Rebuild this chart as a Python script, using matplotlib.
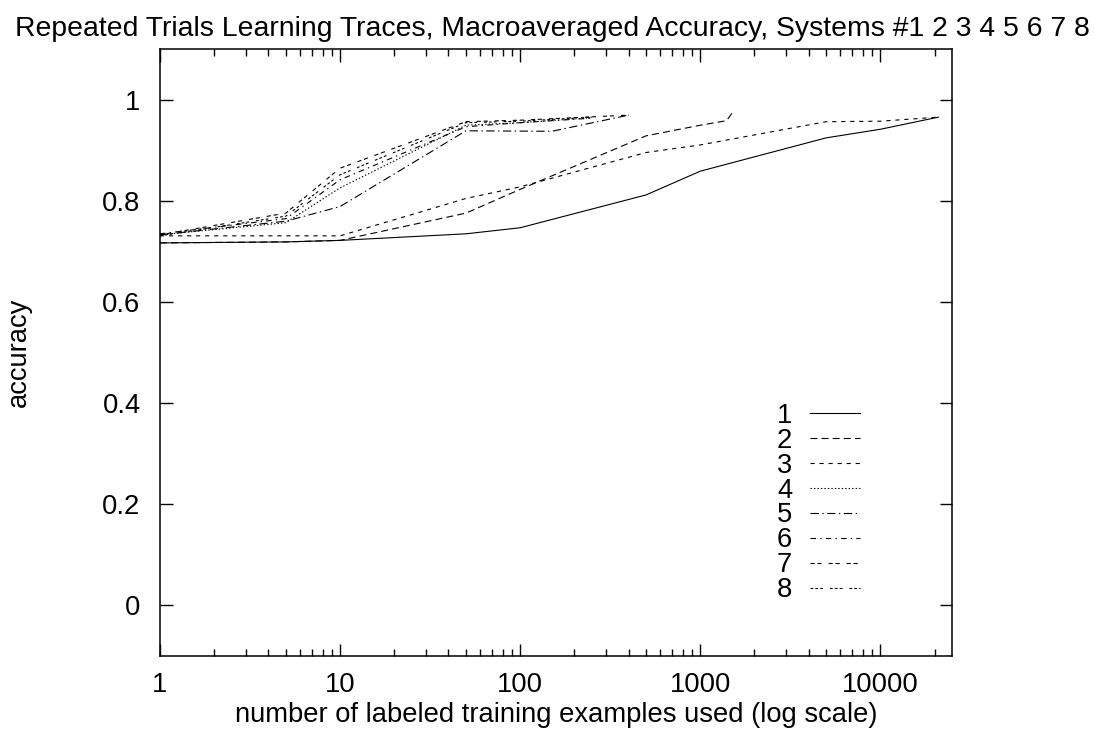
import matplotlib
matplotlib.use("Agg")
import matplotlib.pyplot as plt
from matplotlib.ticker import LogLocator, NullFormatter, FixedLocator

plt.rcParams['font.family'] = ['Liberation Sans', 'DejaVu Sans']
plt.rcParams['lines.scale_dashes'] = False

TITLE = "Repeated Trials Learning Traces, Macroaveraged Accuracy, Systems #1 2 3 4 5 6 7 8"
FS = 19.7

# learning traces, one per system
x1 = [1, 5, 10, 50, 100, 500, 1000, 5000, 10000, 21000]
y1 = [0.717, 0.719, 0.722, 0.735, 0.747, 0.812, 0.859, 0.925, 0.942, 0.966]

x2 = [1, 5, 10, 50, 100, 500, 1000, 1400, 1500]
y2 = [0.717, 0.719, 0.722, 0.776, 0.823, 0.929, 0.950, 0.959, 0.974]

x3 = [1, 5, 10, 50, 100, 500, 1000, 5000, 10000, 21000]
y3 = [0.731, 0.731, 0.731, 0.805, 0.828, 0.896, 0.911, 0.957, 0.958, 0.966]

x4 = [1, 5, 10, 50, 100, 250]
y4 = [0.733, 0.757, 0.826, 0.950, 0.955, 0.965]

x5 = [1, 5, 10, 50, 150, 400]
y5 = [0.733, 0.760, 0.789, 0.939, 0.938, 0.970]

x6 = [1, 5, 10, 50, 100, 250]
y6 = [0.735, 0.765, 0.842, 0.947, 0.955, 0.964]

x7 = [1, 5, 10, 50, 100, 400]
y7 = [0.733, 0.776, 0.865, 0.957, 0.960, 0.970]

x8 = [1, 5, 10, 50, 100, 250]
y8 = [0.731, 0.770, 0.852, 0.955, 0.958, 0.966]

series = [("1", x1, y1), ("2", x2, y2), ("3", x3, y3), ("4", x4, y4),
          ("5", x5, y5), ("6", x6, y6), ("7", x7, y7), ("8", x8, y8)]

# gnuplot-like line types
dash_styles = [
    None,
    (0, (5, 3)),
    (0, (3, 3.5)),
    (0, (1, 1.5)),
    (0, (6, 2.5, 1, 2.5)),
    (0, (4, 3, 1, 3)),
    (0, (3, 2, 3, 5)),
    (0, (2, 1.5, 2, 1.5, 2, 5)),
]

fig = plt.figure(figsize=(10.95, 7.32), dpi=100)
ax = fig.add_axes([0.1461, 0.1045, 0.7233, 0.8279])

for (name, xs, ys), ls in zip(series, dash_styles):
    ax.plot(xs, ys, color='black', lw=0.8,
            linestyle='-' if ls is None else ls, label=name)

ax.set_xscale('log')
ax.set_xlim(1, 25000)
ax.set_ylim(-0.1, 1.1)
ax.yaxis.set_major_locator(FixedLocator([0, 0.2, 0.4, 0.6, 0.8, 1.0]))
ax.set_yticklabels(["0", "0.2", "0.4", "0.6", "0.8", "1"])
ax.xaxis.set_major_locator(FixedLocator([1, 10, 100, 1000, 10000]))
ax.set_xticklabels(["1", "10", "100", "1000", "10000"])
ax.xaxis.set_minor_locator(LogLocator(base=10, subs=range(2, 10), numticks=20))
ax.xaxis.set_minor_formatter(NullFormatter())

ax.tick_params(which='both', direction='in', top=True, right=True,
               labelsize=FS, width=1)
ax.tick_params(axis='y', pad=14)
ax.tick_params(axis='x', pad=12)
ax.tick_params(which='major', length=9)
ax.tick_params(which='minor', length=5)
for s in ax.spines.values():
    s.set_linewidth(1.1)

ax.set_xlabel("number of labeled training examples used (log scale)", fontsize=FS)
ax.xaxis.set_label_coords(0.5, -0.077)
ax.set_ylabel("accuracy", fontsize=FS)
ax.yaxis.set_label_coords(-0.162, 0.5)
fig.text(0.5046, 0.960, TITLE, ha='center', va='center', fontsize=20.4)

ax.legend(loc='upper right', bbox_to_anchor=(0.884, 0.417), frameon=False,
          fontsize=FS, markerfirst=False, handlelength=1.85, handletextpad=0.63,
          labelspacing=-0.04, borderpad=0, borderaxespad=0)

fig.savefig("out.png", dpi=100)
